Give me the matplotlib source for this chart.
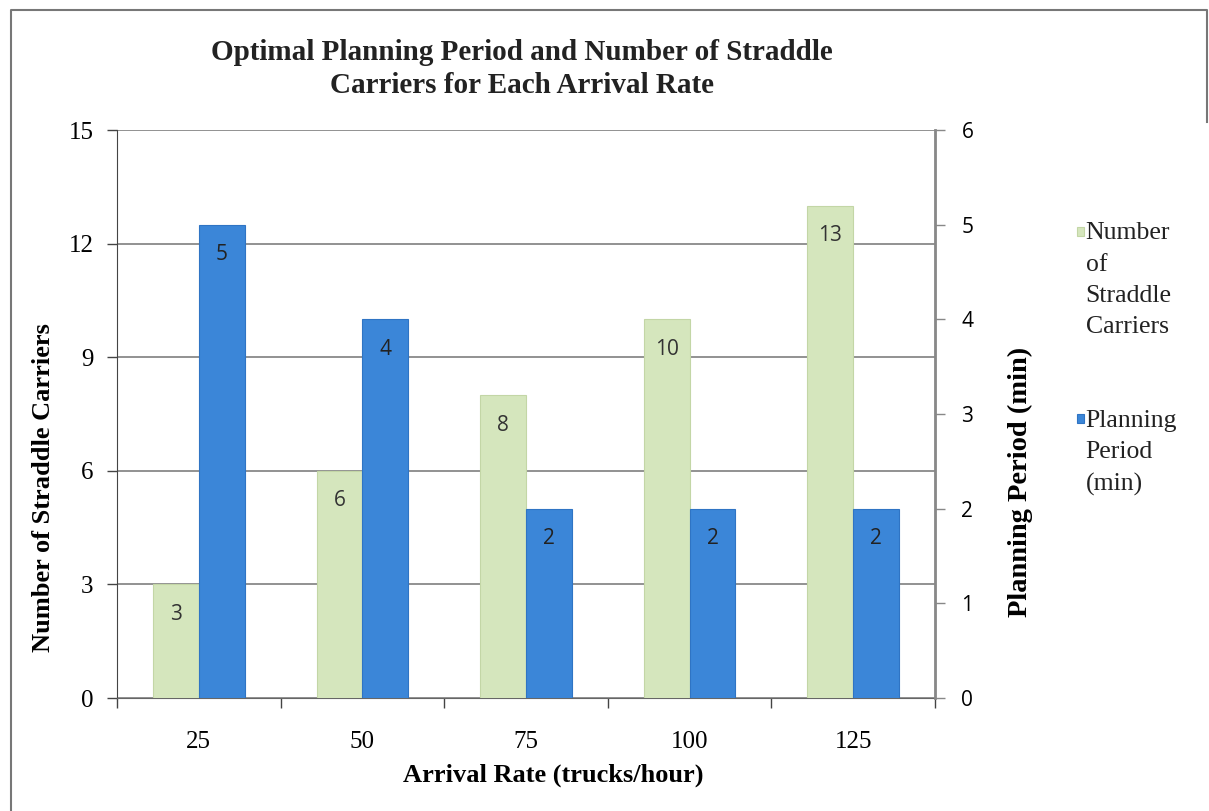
import matplotlib.pyplot as plt
from matplotlib.patches import Rectangle
from matplotlib.lines import Line2D
import numpy as np

# data
arrival_rates = ["25", "50", "75", "100", "125"]
carriers = [3, 6, 8, 10, 13]
planning_period = [5, 4, 2, 2, 2]

green = "#d5e6bd"
green_edge = "#c3d6a6"
blue = "#3b86d8"
blue_edge = "#2f74c4"
grid_col = "#7f7f7f"
serif = ["Liberation Serif", "DejaVu Serif"]
sans = ["Open Sans", "DejaVu Sans"]

fig = plt.figure(figsize=(12.09, 8.11), dpi=100)
ax = fig.add_axes([0.0968, 0.1393, 0.6766, 0.7004])
ax2 = ax.twinx()

x = np.arange(len(arrival_rates))
w = 0.28

b1 = ax.bar(x - w / 2, carriers, width=w, color=green, edgecolor=green_edge, linewidth=0.8, zorder=3)
b2 = ax2.bar(x + w / 2, planning_period, width=w, color=blue, edgecolor=blue_edge, linewidth=0.8, zorder=3)

# labels inside the bars near the top
for rect, v in zip(b1, carriers):
    ax.annotate(str(v), (rect.get_x() + rect.get_width() / 2, v), xytext=(0, -14),
                textcoords="offset points", ha="center", va="top",
                fontsize=15, family=sans, color="#333333", zorder=5)
for rect, v in zip(b2, planning_period):
    ax2.annotate(str(v), (rect.get_x() + rect.get_width() / 2, v), xytext=(0, -14),
                 textcoords="offset points", ha="center", va="top",
                 fontsize=15, family=sans, color="#222222", zorder=5)

ax.set_xlim(-0.5, len(arrival_rates) - 0.5)
ax.set_ylim(0, 15)
ax2.set_ylim(0, 6)
ax.set_yticks([0, 3, 6, 9, 12, 15])
ax2.set_yticks(range(7))

ax.set_xticks(x)
ax.set_xticklabels(arrival_rates, fontsize=18, family=serif)
ax.set_xticks(np.arange(-0.5, len(arrival_rates)), minor=True)
ax.tick_params(axis="x", which="major", length=0, pad=24)
ax.tick_params(axis="x", which="minor", length=7, width=1, color="#444444", direction="out")
ax.tick_params(axis="y", length=7, width=1, color="#444444", labelsize=18, pad=10)
for lab in ax.get_yticklabels():
    lab.set_family(serif)
ax2.tick_params(axis="y", length=7, width=1, color="#888888", labelsize=15, pad=12)
for lab in ax2.get_yticklabels():
    lab.set_family(sans)

ax.yaxis.grid(True, color=grid_col, linewidth=1.2, zorder=0)
ax.set_axisbelow(True)
ax.spines["top"].set_visible(False)
ax2.spines["top"].set_visible(False)
ax.spines["left"].set_color("#444444")
ax.spines["bottom"].set_color("#666666")
ax2.spines["right"].set_color("#888888")
ax2.spines["right"].set_linewidth(2)
ax2.spines["left"].set_visible(False)
ax2.spines["bottom"].set_visible(False)

ax.set_xlabel("Arrival Rate (trucks/hour)", fontsize=19, fontweight="bold", family=serif)
ax.set_ylabel("Number of Straddle Carriers", fontsize=19, fontweight="bold", family=serif)
ax2.set_ylabel("Planning Period (min)", fontsize=20.5, fontweight="bold", family=serif)
ax.xaxis.set_label_coords(0.533, -0.115)
ax.yaxis.set_label_coords(-0.076, 0.37)
ax2.yaxis.set_label_coords(1.089, 0.38)

fig.text(0.432, 0.915, "Optimal Planning Period and Number of Straddle\nCarriers for Each Arrival Rate",
         ha="center", va="center", fontsize=21, fontweight="bold", family=serif,
         linespacing=1.3, color="#222222")

# legend drawn by hand, marker beside the first line
fig.patches.append(Rectangle((0.8905, 0.709), 0.0065, 0.011, transform=fig.transFigure,
                             facecolor=green, edgecolor=green_edge, linewidth=0.8))
fig.text(0.898, 0.726, "Number\nof\nStraddle\nCarriers", ha="left", va="top",
         fontsize=18.5, family=serif, linespacing=1.55, color="#222222")
fig.patches.append(Rectangle((0.8905, 0.478), 0.0065, 0.011, transform=fig.transFigure,
                             facecolor=blue, edgecolor=blue_edge, linewidth=0.8))
fig.text(0.898, 0.495, "Planning\nPeriod\n(min)", ha="left", va="top",
         fontsize=18.5, family=serif, linespacing=1.55, color="#222222")

# outer frame (top, left, right)
fig.lines.append(Line2D([0.009, 0.009, 0.998, 0.998], [0.0, 0.988, 0.988, 0.85],
                        transform=fig.transFigure, color="#777777", linewidth=1.5))

fig.savefig("out.png", dpi=100)
